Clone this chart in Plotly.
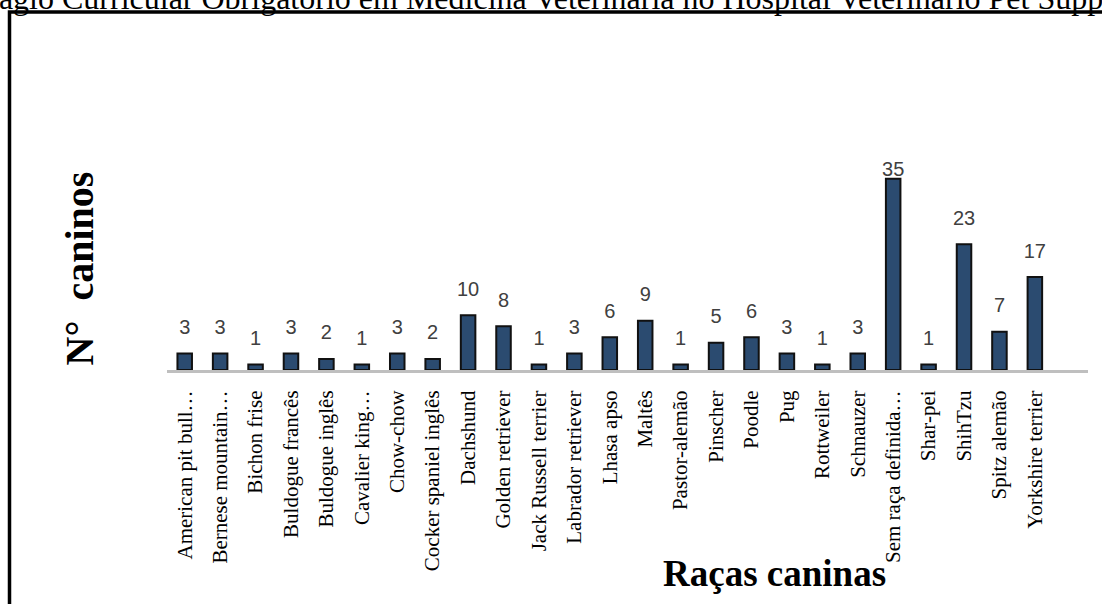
import numpy as np
import plotly.graph_objects as go

# ---- data ----
racas = ["American pit bull…", "Bernese mountain…", "Bichon frise", "Buldogue francês",
         "Buldogue inglês", "Cavalier king…", "Chow-chow", "Cocker spaniel inglês",
         "Dachshund", "Golden retriever", "Jack Russell terrier", "Labrador retriever",
         "Lhasa apso", "Maltês", "Pastor-alemão", "Pinscher", "Poodle", "Pug",
         "Rottweiler", "Schnauzer", "Sem raça definida…", "Shar-pei", "ShihTzu",
         "Spitz alemão", "Yorkshire terrier"]
caninos = [3, 3, 1, 3, 2, 1, 3, 2, 10, 8, 1, 3, 6, 9, 1, 5, 6, 3, 1, 3, 35, 1, 23, 7, 17]

titulo = "Estágio Curricular Obrigatório em Medicina Veterinária no Hospital Veterinário Pet Support"
titulo_y = "N°  caninos"
titulo_x = "Raças caninas"

# ---- layout geometry ----
W, H = 1102, 604
L, R, T, B = 167, 14, 152, 234
YMAX = 39.9


def px_x(p):
    return (p - L) / (W - L - R)


def px_y(p):
    return (H - B - p) / (H - T - B)


vals = np.array(caninos, dtype=float)
label_y = np.minimum(vals + 4.5, 36.5)

fig = go.Figure()
fig.add_trace(go.Bar(
    x=racas, y=caninos, width=0.41,
    marker=dict(color="#2b4b70", line=dict(color="#111111", width=2)),
    hoverinfo="skip",
))
fig.add_trace(go.Scatter(
    x=racas, y=label_y, mode="text",
    text=[str(v) for v in caninos],
    textposition="middle center",
    textfont=dict(family="Liberation Sans", size=20, color="#404040"),
    cliponaxis=False, hoverinfo="skip",
))

fig.update_layout(
    width=W, height=H,
    margin=dict(l=L, r=R, t=T, b=B, pad=0),
    paper_bgcolor="white", plot_bgcolor="white",
    showlegend=False,
    xaxis=dict(
        type="category", range=[-0.5, 25.5],
        showline=True, linecolor="#bfbfbf", linewidth=3,
        showgrid=False, zeroline=False,
        ticks="outside", ticklen=9, tickcolor="rgba(0,0,0,0)",
        tickangle=-90,
        tickfont=dict(family="Liberation Serif", size=21, color="black"),
    ),
    yaxis=dict(
        range=[0, YMAX], visible=False, showgrid=False, zeroline=False,
    ),
    shapes=[
        dict(type="rect", xref="paper", yref="paper",
             x0=px_x(9.5), x1=px_x(1300), y0=px_y(800), y1=px_y(12),
             line=dict(color="black", width=3.5), fillcolor="rgba(0,0,0,0)",
             layer="above"),
    ],
    annotations=[
        dict(text=titulo, xref="paper", yref="paper",
             x=px_x(-44), y=px_y(-2.5), xanchor="left", yanchor="middle",
             showarrow=False,
             font=dict(family="Liberation Serif", size=32, color="black")),
        dict(text="<b>" + titulo_y + "</b>", xref="paper", yref="paper",
             x=px_x(78.5), y=px_y(269), xanchor="center", yanchor="middle",
             textangle=-90, showarrow=False,
             font=dict(family="Liberation Serif", size=40, color="black")),
        dict(text="<b>" + titulo_x + "</b>", xref="paper", yref="paper",
             x=px_x(774.5), y=px_y(573.5), xanchor="center", yanchor="middle",
             showarrow=False,
             font=dict(family="Liberation Serif", size=37, color="black")),
    ],
)

fig.write_html("out.html")
